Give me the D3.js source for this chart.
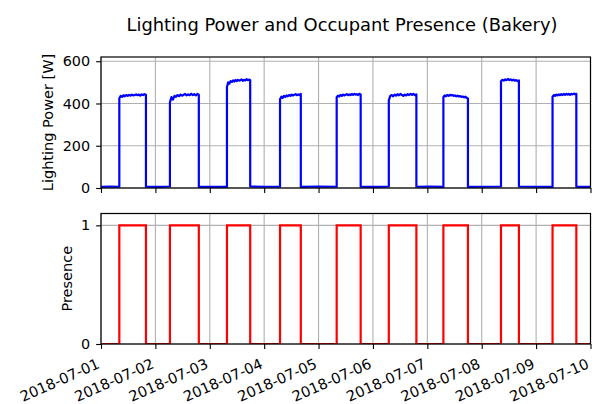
<!DOCTYPE html>
<html>
<head>
<meta charset="utf-8">
<script src="https://cdn.jsdelivr.net/npm/d3@7"></script>
<style>
  body { margin: 0; background: #fff; }
  svg { display: block; font-family: "DejaVu Sans", sans-serif; }
</style>
</head>
<body>
<svg id="chart" width="597" height="404"></svg>
<script>
const width = 597;
const height = 404;

// occupied periods (UTC)
const onTimes = ["2018-07-01T08:05Z", "2018-07-02T06:25Z", "2018-07-03T07:35Z", "2018-07-04T07:00Z",
    "2018-07-05T08:00Z", "2018-07-06T07:00Z", "2018-07-07T07:05Z", "2018-07-08T08:30Z", "2018-07-09T07:15Z"];
const offTimes = ["2018-07-01T19:50Z", "2018-07-02T19:10Z", "2018-07-03T17:50Z", "2018-07-04T16:10Z",
    "2018-07-05T18:35Z", "2018-07-06T19:10Z", "2018-07-07T17:55Z", "2018-07-08T16:25Z", "2018-07-09T17:45Z"];

// lighting power while lit [W], sampled across each lit period
const powerOn = [
    [425, 436, 431, 439, 434, 440, 436, 441, 437, 442, 438, 440, 443, 439, 442, 437, 443, 440, 444, 441],
    [405, 430, 418, 436, 431, 440, 435, 442, 437, 441, 445, 438, 443, 439, 446, 440, 444, 438, 445, 441],
    [478, 500, 494, 506, 502, 509, 504, 511, 506, 512, 508, 510, 514, 507, 512, 509, 515, 510, 513, 511],
    [420, 432, 426, 436, 431, 438, 434, 440, 436, 442, 438, 441, 444, 439, 443, 440, 445],
    [430, 437, 433, 440, 436, 442, 438, 441, 444, 439, 443, 440, 445, 441, 446, 442, 444, 440, 446, 443],
    [415, 436, 440, 434, 442, 437, 444, 439, 445, 440, 436, 442, 438, 444, 440, 446, 441, 445, 440, 443],
    [430, 438, 434, 440, 436, 441, 438, 440, 436, 438, 434, 437, 433, 435, 431, 433, 429, 432, 427, 424],
    [505, 512, 508, 514, 510, 516, 511, 514, 509, 513, 508, 511, 506, 509],
    [432, 440, 436, 442, 438, 443, 439, 444, 440, 445, 441, 446, 442, 445, 441, 446, 443, 447, 444, 446]
];
// standby power between lit periods [W]
const powerOff = [
    [5, 7, 6], [6, 5, 7], [5, 6, 5], [7, 6, 6], [5, 7, 6],
    [6, 5, 7], [6, 7, 5], [5, 6, 7], [7, 6, 5], [6, 5, 6]
];

const powerTicks = [0, 200, 400, 600];
const presenceTicks = [0, 1];

const startDate = new Date("2018-07-01T00:00Z");
const endDate = new Date("2018-07-10T00:00Z");

const tickFont = 14.4;
const dateFont = 14.6;
const labelFont = 14.5;

const svg = d3.select("#chart");

const x = d3.scaleUtc()
    .domain([startDate, endDate])
    .range([101, 590.5]);

const yPower = d3.scaleLinear().domain([0, 620]).range([188, 57]);
const yPres = d3.scaleLinear().domain([0, 1.1]).range([344, 213.5]);

const on = onTimes.map(d => new Date(d));
const off = offTimes.map(d => new Date(d));

// build the power series
function spread(a, b, vals, i) {
    return a.getTime() + (b - a) * i / (vals.length - 1);
}
const powerPts = [];
function pushOff(gap, t0, t1) {
    const vals = powerOff[gap];
    vals.forEach((v, i) => powerPts.push([spread(t0, t1, vals, i), v]));
}
pushOff(0, startDate, on[0]);
on.forEach((t, k) => {
    powerOn[k].forEach((v, i) => powerPts.push([spread(t, off[k], powerOn[k], i), v]));
    pushOff(k + 1, off[k], k + 1 < on.length ? on[k + 1] : endDate);
});

// presence step series
const presPts = [[startDate, 0]];
on.forEach((t, k) => {
    presPts.push([t, 0], [t, 1], [off[k], 1], [off[k], 0]);
});
presPts.push([endDate, 0]);

const dayTicks = d3.utcDay.range(startDate, d3.utcDay.offset(endDate, 1));

function panel(y, ticks, id, top, bottom) {
    const g = svg.append("g");

    g.append("clipPath").attr("id", id)
        .append("rect")
        .attr("x", x.range()[0]).attr("y", top)
        .attr("width", x.range()[1] - x.range()[0]).attr("height", bottom - top);

    // grid
    g.append("g")
        .selectAll("line")
        .data(dayTicks)
        .join("line")
        .attr("x1", d => x(d)).attr("x2", d => x(d))
        .attr("y1", top).attr("y2", bottom)
        .attr("stroke", "#b0b0b0").attr("stroke-width", 1.1);
    g.append("g")
        .selectAll("line")
        .data(ticks)
        .join("line")
        .attr("x1", x.range()[0]).attr("x2", x.range()[1])
        .attr("y1", d => y(d)).attr("y2", d => y(d))
        .attr("stroke", "#b0b0b0").attr("stroke-width", 1.1);

    // y axis
    const ya = g.append("g")
        .attr("transform", `translate(${x.range()[0]},0)`)
        .call(d3.axisLeft(y).tickValues(ticks).tickSize(4.9).tickPadding(6).tickFormat(d3.format("d")));
    ya.select(".domain").remove();
    ya.selectAll("text").attr("font-size", tickFont).attr("fill", "#000")
        .attr("font-family", "DejaVu Sans");
    ya.selectAll("line").attr("stroke", "#000").attr("stroke-width", 1.1);

    return g;
}

// top panel: lighting power
const gTop = panel(yPower, powerTicks, "clipTop", 57, 188);
gTop.append("path")
    .datum(powerPts)
    .attr("clip-path", "url(#clipTop)")
    .attr("fill", "none")
    .attr("stroke", "#0000ff")
    .attr("stroke-width", 2.2)
    .attr("stroke-linejoin", "round")
    .attr("d", d3.line().x(d => x(d[0])).y(d => yPower(d[1])));

const xTop = gTop.append("g")
    .attr("transform", "translate(0,188)")
    .call(d3.axisBottom(x).tickValues(dayTicks).tickSize(4.9).tickFormat(""));
xTop.select(".domain").remove();
xTop.selectAll("line").attr("stroke", "#000").attr("stroke-width", 1.1);

gTop.append("rect")
    .attr("x", 101).attr("y", 57).attr("width", 489.5).attr("height", 131)
    .attr("fill", "none").attr("stroke", "#000").attr("stroke-width", 1.2);

gTop.append("text")
    .attr("transform", "translate(52.5,122.5) rotate(-90)")
    .attr("text-anchor", "middle")
    .attr("font-size", labelFont)
    .text("Lighting Power [W]");

// bottom panel: presence
const gBot = panel(yPres, presenceTicks, "clipBot", 213.5, 344);
gBot.append("path")
    .datum(presPts)
    .attr("clip-path", "url(#clipBot)")
    .attr("fill", "none")
    .attr("stroke", "#ff0000")
    .attr("stroke-width", 2.2)
    .attr("d", d3.line().x(d => x(d[0])).y(d => yPres(d[1])));

const xBot = gBot.append("g")
    .attr("transform", "translate(0,344)")
    .call(d3.axisBottom(x).tickValues(dayTicks).tickSize(4.9)
        .tickFormat(d3.utcFormat("%Y-%m-%d")));
xBot.select(".domain").remove();
xBot.selectAll("line").attr("stroke", "#000").attr("stroke-width", 1.1);
xBot.selectAll("text")
    .attr("font-size", dateFont)
    .attr("font-family", "DejaVu Sans")
    .attr("fill", "#000")
    .attr("text-anchor", "end")
    .attr("dy", null)
    .attr("y", null)
    .attr("transform", "translate(-1,23.5) rotate(-24)");

gBot.append("rect")
    .attr("x", 101).attr("y", 213.5).attr("width", 489.5).attr("height", 130.5)
    .attr("fill", "none").attr("stroke", "#000").attr("stroke-width", 1.2);

gBot.append("text")
    .attr("transform", "translate(72,278.7) rotate(-90)")
    .attr("text-anchor", "middle")
    .attr("font-size", labelFont)
    .text("Presence");

// title
svg.append("text")
    .attr("x", 342)
    .attr("y", 31)
    .attr("text-anchor", "middle")
    .attr("font-size", 17.9)
    .text("Lighting Power and Occupant Presence (Bakery)");
</script>
</body>
</html>
